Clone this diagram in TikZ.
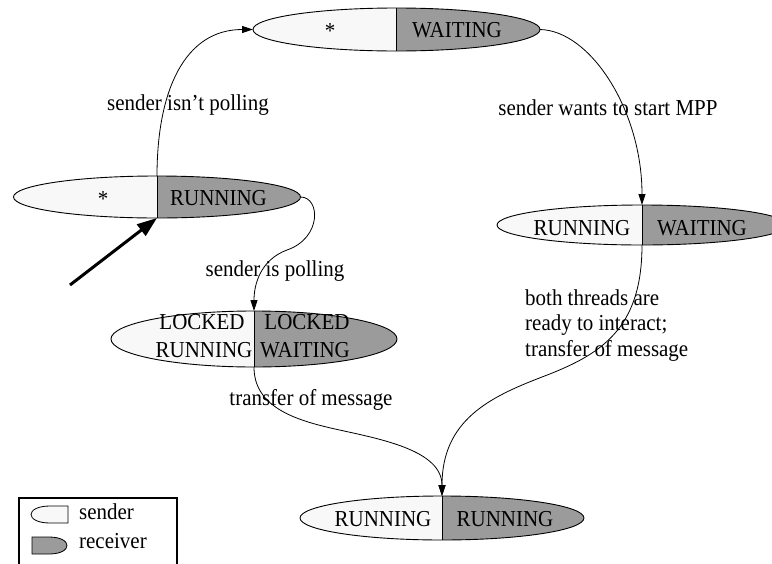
\documentclass[tikz,border=0pt]{standalone}
\usepackage{fontspec}
\setmainfont{Liberation Serif}[FakeStretch=0.92]
\usetikzlibrary{shapes.geometric,arrows.meta}
\definecolor{sendfill}{RGB}{248,248,248}
\definecolor{recvfill}{RGB}{155,155,155}
\tikzset{
  state/.style={ellipse, draw, line width=0.9pt, fill=sendfill, inner sep=0pt, outer sep=0pt,
    path picture={\fill[recvfill] (path picture bounding box.north) rectangle (path picture bounding box.south east);
      \draw[line width=0.9pt] (path picture bounding box.north) -- (path picture bounding box.south);}},
  txt/.style={inner sep=0pt, font=\fontsize{22.8}{25.5}\selectfont},
  trans/.style={draw, line width=0.8pt, -{Triangle[length=11pt,width=7pt]}},
  startarrow/.style={draw, line width=3pt, -{Triangle[length=20pt,width=14pt]}},
  legendbox/.style={draw, line width=2.2pt},
  legendshape/.style={draw, line width=0.8pt},
}
\begin{document}
\begin{tikzpicture}[x=1pt,y=-1pt]
\useasboundingbox (0,0) rectangle (772,563);

% states: left half = sender, right half = receiver
\node[state, minimum width=287pt, minimum height=43pt] (s0) at (396.5,29.5) {};
\node[txt, anchor=base] (s0a) at (330,38) {*};
\node[txt, anchor=base] (s0b) at (457,37) {WAITING};

\node[state, minimum width=287pt, minimum height=42pt] (s1) at (157,197) {};
\node[txt, anchor=base] (s1a) at (103,206) {*};
\node[txt, anchor=base] (s1b) at (218.5,205) {RUNNING};

\node[state, minimum width=290pt, minimum height=40pt] (s2) at (642,225) {};
\node[txt, anchor=base] (s2a) at (582,235) {RUNNING};
\node[txt, anchor=base] (s2b) at (702,235) {WAITING};

\node[state, minimum width=286pt, minimum height=56pt] (s3) at (254,339) {};
\node[txt, anchor=base] (s3a) at (202,329) {LOCKED};
\node[txt, anchor=base] (s3b) at (204,357) {RUNNING};
\node[txt, anchor=base] (s3c) at (307,329) {LOCKED};
\node[txt, anchor=base] (s3d) at (305,357) {WAITING};

\node[state, minimum width=284pt, minimum height=44pt] (s4) at (442,518) {};
\node[txt, anchor=base] (s4a) at (383,526) {RUNNING};
\node[txt, anchor=base] (s4b) at (505,526) {RUNNING};

% initial transition
\coordinate (init) at (70,285);
\draw[startarrow] (init) -- (s1.south);

% transitions
\draw[trans] (s1.north) .. controls +(0,-86) and +(-68,0) .. (s0.west);
\node[txt, anchor=base] (l1) at (188,110) {sender isn't polling};

\draw[trans] (s0.east) .. controls +(50,1) and +(0,-95) .. (s2.north);
\node[txt, anchor=base] (l2) at (608,115) {sender wants to start MPP};

\coordinate (k1) at (287,250);
\draw[trans] (s1.east) .. controls +(20,0) and +(35,-12) .. (k1)
  .. controls +(-27,10) and +(0,-26) .. (s3.north);
\node[txt, anchor=base] (l3) at (275,276) {sender is polling};

\coordinate (k2) at (335,429);
\draw[trans] (s3.south) .. controls +(0,40) and +(-40,-9) .. (k2)
  .. controls +(45,10) and +(0,-46) .. (s4.north);
\node[txt, anchor=base] (l4) at (311,405) {transfer of message};

\coordinate (k3) at (542,377);
\draw[trans] (s2.south) .. controls +(0,85) and +(58,-22) .. (k3)
  .. controls +(-52,20) and +(0,-76) .. (s4.north);
\node[txt, anchor=north west, align=left] (l5) at (525,289) {both threads are\\ready to interact;\\transfer of message};

% legend: half ellipses for the two roles
\node[legendbox, minimum width=158pt, minimum height=78pt, inner sep=0pt, anchor=north west] (legend) at (18,497) {};
\draw[legendshape, fill=sendfill] (68,506) -- (50,506) .. controls (24.7,506) and (24.7,523) .. (50,523) -- (68,523) -- cycle;
\node[txt, anchor=base west] (lsend) at (79,519) {sender};
\draw[legendshape, fill=recvfill] (32,537) -- (49,537) .. controls (73,537) and (73,554) .. (49,554) -- (32,554) -- cycle;
\node[txt, anchor=base west] (lrecv) at (79,548) {receiver};
\end{tikzpicture}
\end{document}
